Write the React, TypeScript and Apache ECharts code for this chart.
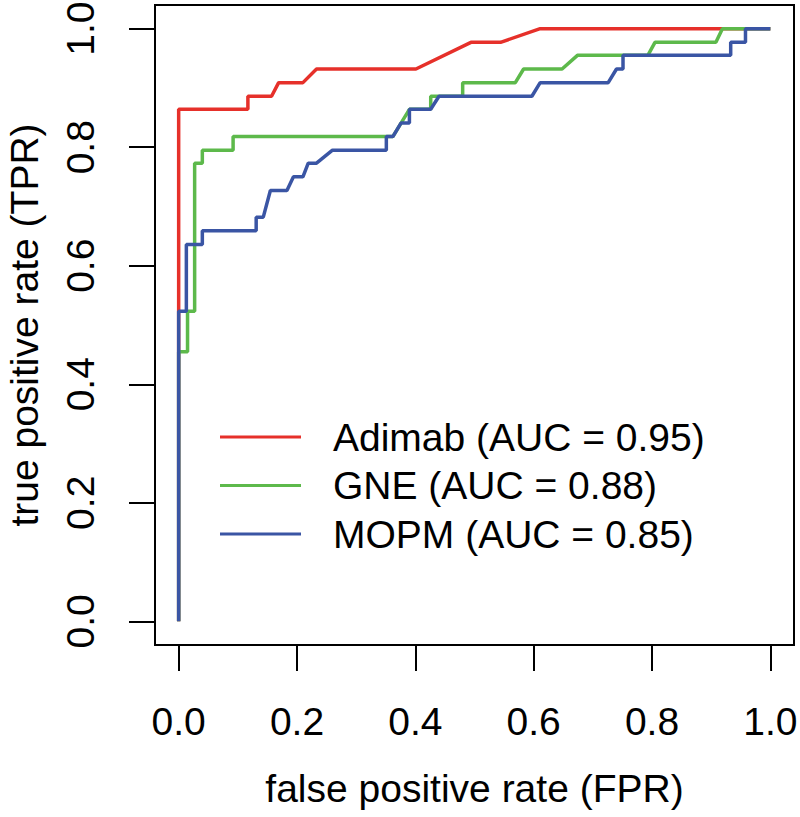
import React, { useEffect, useRef } from "react";
import * as echarts from "echarts";

const tickValues = [0, 0.2, 0.4, 0.6, 0.8, 1.0];

const seriesNames = ["Adimab (AUC = 0.95)", "GNE (AUC = 0.88)", "MOPM (AUC = 0.85)"];
const seriesColors = ["#E6302A", "#5DB94B", "#3A55A4"];

const adimab: [number, number][] = [
  [0, 0], [0, 0.864], [0.117, 0.864], [0.117, 0.886], [0.157, 0.886], [0.169, 0.909],
  [0.21, 0.909], [0.233, 0.932], [0.401, 0.932], [0.494, 0.977], [0.544, 0.977],
  [0.611, 1], [1, 1],
];

const gne: [number, number][] = [
  [0, 0], [0, 0.455], [0.015, 0.455], [0.015, 0.523], [0.027, 0.523], [0.027, 0.773],
  [0.04, 0.773], [0.04, 0.795], [0.092, 0.795], [0.092, 0.818], [0.362, 0.818],
  [0.39, 0.864], [0.426, 0.864], [0.426, 0.886], [0.48, 0.886], [0.48, 0.909],
  [0.569, 0.909], [0.583, 0.932], [0.648, 0.932], [0.674, 0.955], [0.793, 0.955],
  [0.805, 0.977], [0.908, 0.977], [0.919, 1], [1, 1],
];

const mopm: [number, number][] = [
  [0, 0], [0, 0.523], [0.013, 0.523], [0.013, 0.636], [0.04, 0.636], [0.04, 0.659],
  [0.131, 0.659], [0.131, 0.682], [0.143, 0.682], [0.155, 0.727], [0.183, 0.727],
  [0.194, 0.75], [0.21, 0.75], [0.219, 0.773], [0.233, 0.773], [0.26, 0.795],
  [0.351, 0.795], [0.351, 0.818], [0.362, 0.818], [0.376, 0.841], [0.39, 0.841],
  [0.39, 0.864], [0.426, 0.864], [0.44, 0.886], [0.597, 0.886], [0.611, 0.909],
  [0.726, 0.909], [0.74, 0.932], [0.751, 0.932], [0.751, 0.955], [0.933, 0.955],
  [0.933, 0.977], [0.958, 0.977], [0.958, 1], [1, 1],
];

const allData = [adimab, gne, mopm];

const FONT = "Liberation Sans, Arial, Helvetica, sans-serif";
const FS = 39;

export default function App() {
  const ref = useRef<HTMLDivElement>(null);

  useEffect(() => {
    if (!ref.current) return;
    const chart = echarts.init(ref.current, null, { renderer: "svg" });
    const axisCommon = {
      type: "value" as const,
      min: -0.04,
      max: 1.04,
      splitLine: { show: false },
      axisLine: { show: false, onZero: false },
      axisTick: {
        show: true,
        inside: false,
        length: 26,
        customValues: tickValues,
        lineStyle: { color: "#000", width: 2 },
      },
      axisLabel: {
        show: true,
        customValues: tickValues,
        formatter: (v: number) => v.toFixed(1),
        color: "#000",
        fontSize: FS,
        fontFamily: FONT,
      },
      nameLocation: "middle" as const,
      nameTextStyle: { color: "#000", fontSize: FS, fontFamily: FONT },
    };
    chart.setOption({
      animation: false,
      backgroundColor: "#fff",
      grid: {
        left: 155,
        right: 6,
        top: 5,
        bottom: 172,
        containLabel: false,
        outerBoundsMode: "none",
        show: true,
        borderColor: "#000",
        borderWidth: 2,
        backgroundColor: "transparent",
      },
      xAxis: {
        ...axisCommon,
        name: "false positive rate (FPR)",
        nameGap: 124,
        axisLabel: { ...axisCommon.axisLabel, margin: 57 },
      },
      yAxis: {
        ...axisCommon,
        name: "true positive rate (TPR)",
        nameGap: 111,
        nameTextStyle: { ...axisCommon.nameTextStyle, lineHeight: 39 },
        axisLabel: { ...axisCommon.axisLabel, margin: 55, rotate: 90 },
      },
      legend: {
        orient: "vertical",
        left: 215,
        top: 412,
        itemWidth: 81,
        itemHeight: 3,
        itemGap: 8.5,
        icon: "rect",
        data: seriesNames,
        textStyle: {
          color: "#000",
          fontSize: FS,
          fontFamily: FONT,
          lineHeight: 40,
          padding: [0, 0, 0, 27],
        },
      },
      series: allData.map((d, i) => ({
        name: seriesNames[i],
        type: "line",
        data: d,
        showSymbol: false,
        symbol: "none",
        color: seriesColors[i],
        lineStyle: { color: seriesColors[i], width: 3.5 },
        itemStyle: { color: seriesColors[i] },
      })),
    });
    return () => chart.dispose();
  }, []);

  return (
    <div
      ref={ref}
      style={{ position: "fixed", left: 0, top: 0, width: 800, height: 817, background: "#fff" }}
    />
  );
}
